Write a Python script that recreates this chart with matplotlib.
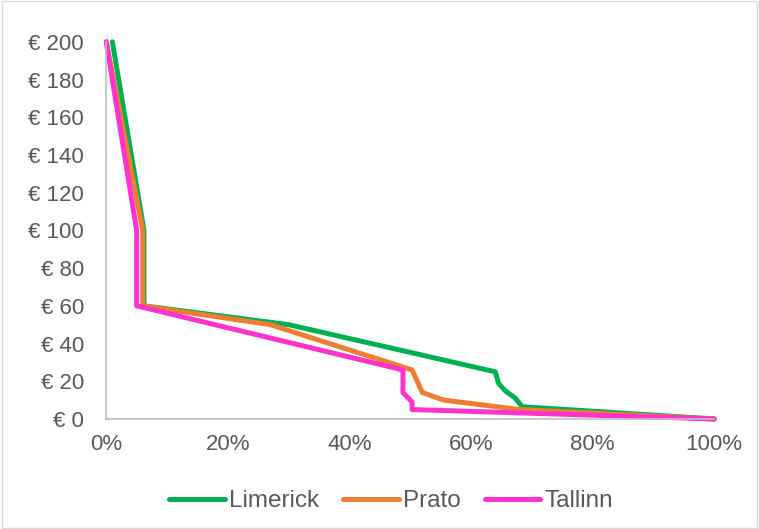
import matplotlib.pyplot as plt
from matplotlib.ticker import FuncFormatter, MultipleLocator
from matplotlib.patches import Rectangle

# share of households (x) vs price (y)
lim_x = [0.01, 0.062, 0.062, 0.30, 0.64, 0.645, 0.656, 0.673, 0.684, 1.0]
lim_y = [200, 100, 60, 50, 25, 19, 15, 11, 6.5, 0]
pra_x = [0.0, 0.06, 0.06, 0.27, 0.503, 0.52, 0.555, 0.68, 1.0]
pra_y = [200, 100, 60, 50, 26, 14, 10, 5, 0]
tal_x = [0.0, 0.05, 0.05, 0.488, 0.488, 0.503, 0.503, 1.0]
tal_y = [200, 100, 60, 26, 14, 9, 5, 0]

plt.rcParams['font.family'] = ['Liberation Sans', 'DejaVu Sans']
fig = plt.figure(figsize=(7.59, 5.29), dpi=100)
ax = fig.add_axes([0.14, 0.208, 0.801, 0.713])

ax.plot(lim_x, lim_y, color='#00B050', lw=3.6, label='Limerick', solid_capstyle='round', clip_on=False)
ax.plot(pra_x, pra_y, color='#ED7D31', lw=3.6, label='Prato', solid_capstyle='round', clip_on=False)
ax.plot(tal_x, tal_y, color='#FF33CC', lw=3.6, label='Tallinn', solid_capstyle='round', clip_on=False)

ax.set_xlim(0, 1)
ax.set_ylim(0, 200)
ax.xaxis.set_major_locator(MultipleLocator(0.2))
ax.yaxis.set_major_locator(MultipleLocator(20))
ax.xaxis.set_major_formatter(FuncFormatter(lambda v, p: f'{v*100:.0f}%'))
ax.yaxis.set_major_formatter(FuncFormatter(lambda v, p: f'€ {v:.0f}'))
for s in ['top', 'right']:
    ax.spines[s].set_visible(False)
for s in ['left', 'bottom']:
    ax.spines[s].set_color('#BFBFBF')
    ax.spines[s].set_linewidth(1.2)
ax.tick_params(length=0, labelsize=16, colors='#595959')
ax.tick_params(axis='x', pad=11)
ax.tick_params(axis='y', pad=16)

fig.legend(loc='lower center', ncol=3, frameon=False, fontsize=17.5,
           bbox_to_anchor=(0.515, -0.01), handlelength=2.3, columnspacing=1.0,
           labelcolor='#595959', handletextpad=0.15)
fig.patches.append(Rectangle((0.002, 0.002), 0.996, 0.996, transform=fig.transFigure,
                             fill=False, edgecolor='#D9D9D9', lw=1))

fig.savefig('out.png', dpi=100)
